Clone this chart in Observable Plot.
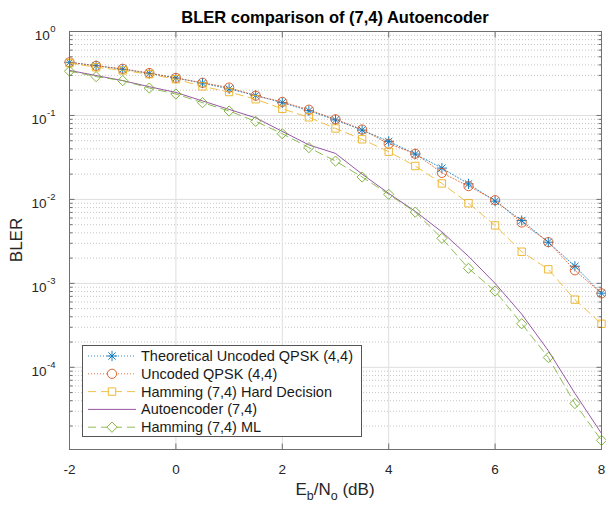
<!DOCTYPE html>
<html><head><meta charset="utf-8">
<script src="https://cdn.jsdelivr.net/npm/d3@7"></script>
<script src="https://cdn.jsdelivr.net/npm/@observablehq/plot@0.6"></script>
<style>
body{margin:0;background:#fff;}
svg text{font-family:"Liberation Sans",Arial,Helvetica,sans-serif;}
</style></head><body><div id="chart"></div>
<script>
// ---- data ----
const ebno = [-2,-1.5,-1,-0.5,0,0.5,1,1.5,2,2.5,3,3.5,4,4.5,5,5.5,6,6.5,7,7.5,8];
const theoretical = [0.429,0.392,0.355,0.317,0.279,0.243,0.207,0.173,0.142,0.114,0.0885,0.067,0.0491,0.0347,0.0236,0.0153,0.00953,0.0056,0.00309,0.0016,0.000764];
const uncoded = [0.43,0.39,0.36,0.32,0.28,0.245,0.215,0.172,0.145,0.117,0.09,0.068,0.046,0.035,0.0207,0.0144,0.0098,0.0053,0.0031,0.00143,0.00076];
const hammingHard = [0.42,0.375,0.344,0.31,0.27,0.222,0.19,0.156,0.12,0.095,0.07,0.052,0.037,0.025,0.0155,0.009,0.0049,0.00238,0.00147,0.00064,0.00033];
const autoencoder = [0.344,0.299,0.26,0.22,0.188,0.149,0.118,0.0937,0.0646,0.0446,0.0353,0.02,0.0118,0.0072,0.0041,0.0021,0.001,0.00043,0.000158,0.000049,0.0000163];
const hammingML = [0.337,0.29,0.26,0.212,0.18,0.142,0.113,0.085,0.0606,0.0414,0.0286,0.0185,0.0115,0.00706,0.00344,0.00151,0.00081,0.00033,0.000131,0.000037,0.0000135];
const seriesNames = ["Theoretical Uncoded QPSK (4,4)","Uncoded QPSK (4,4)","Hamming (7,4) Hard Decision","Autoencoder (7,4)","Hamming (7,4) ML"];
const xTicks = [-2,0,2,4,6,8];
const yTicks = [1,0.1,0.01,0.001,0.0001];
const yDomain = [1.05e-5, 1];
const titleText = "BLER comparison of (7,4) Autoencoder";
const yLabelText = "BLER";

// ---- styles ----
const series = [
  {name: seriesNames[0], values: theoretical, color: "#0072BD", dash: "1,2", symbols: [{s:"plus", r:3.4},{s:"times", r:3.4}]},
  {name: seriesNames[1], values: uncoded, color: "#D95319", dash: "1,2", symbols: [{s:"circle", r:4.6}]},
  {name: seriesNames[2], values: hammingHard, color: "#EDB120", dash: "8,5", symbols: [{s:"square2", r:4.7}]},
  {name: seriesNames[3], values: autoencoder, color: "#7E2F8E", dash: null, symbols: []},
  {name: seriesNames[4], values: hammingML, color: "#77AC30", dash: "8,5", symbols: [{s:"diamond2", r:4.6}]}
];
const minorY = [];
for (let e = -5; e <= -1; e++) for (let m = 2; m <= 9; m++) {
  const v = m * Math.pow(10, e);
  if (v >= yDomain[0] && v <= yDomain[1]) minorY.push(v);
}
const frameColor = "#707070";
const lineOpacity = 0.8;

const marks = [
  Plot.gridY(minorY, {stroke: "#c6c6c6", strokeOpacity: 1, strokeDasharray: "1,2"}),
  Plot.gridY(yTicks, {stroke: "#dedede", strokeOpacity: 1}),
  Plot.gridX(xTicks, {stroke: "#dedede", strokeOpacity: 1})
];
for (const s of series) {
  const rows = ebno.map((x, i) => ({x, y: s.values[i]}));
  marks.push(Plot.line(rows, {x: "x", y: "y", stroke: s.color, strokeWidth: 1, strokeOpacity: lineOpacity, strokeDasharray: s.dash}));
  for (const sym of s.symbols) {
    marks.push(Plot.dot(rows, {x: "x", y: "y", symbol: sym.s, r: sym.r, stroke: s.color, strokeOpacity: 0.9, fill: "none", strokeWidth: 1}));
  }
}
marks.push(
  Plot.frame({stroke: frameColor}),
  Plot.axisY(yTicks, {anchor: "left", tickSize: 0, tickPadding: 14, dy: 4.5, label: null,
    tickFormat: d => String(Math.round(Math.log10(d))), fontSize: 13.5}),
  Plot.axisY(yTicks, {anchor: "left", tickSize: -5.5, label: null, tickFormat: () => "", stroke: frameColor}),
  Plot.axisY(minorY, {anchor: "left", tickSize: -3.5, label: null, tickFormat: () => "", stroke: frameColor}),
  Plot.axisY(yTicks, {anchor: "right", tickSize: -5.5, label: null, tickFormat: () => "", stroke: frameColor}),
  Plot.axisY(minorY, {anchor: "right", tickSize: -3.5, label: null, tickFormat: () => "", stroke: frameColor}),
  Plot.axisX(xTicks, {anchor: "bottom", tickSize: 0, tickPadding: 14.5, label: null, tickFormat: d => String(d), fontSize: 13.5}),
  Plot.axisX(xTicks, {anchor: "bottom", tickSize: -5.5, label: null, tickFormat: () => "", stroke: frameColor}),
  Plot.axisX(xTicks, {anchor: "top", tickSize: -5.5, label: null, tickFormat: () => "", stroke: frameColor})
);

const svg = Plot.plot({
  width: 606, height: 508,
  marginLeft: 69, marginRight: 5, marginTop: 31, marginBottom: 59,
  style: {fontFamily: "Liberation Sans, Arial, Helvetica, sans-serif", fontSize: "13.5px", color: "#262626", background: "white"},
  x: {domain: [-2, 8]},
  y: {type: "log", domain: yDomain},
  marks
});
document.getElementById("chart").appendChild(svg);

const S = d3.select(svg);
// superscript exponents on the y tick labels
S.selectAll('g[aria-label="y-axis tick label"] text').each(function() {
  const t = d3.select(this); const e = t.text();
  if (!e) return;
  t.text("");
  t.append("tspan").text("10");
  t.append("tspan").attr("dy", "-8").attr("dx", "0.5").attr("font-size", "9.5px").text(e);
});
// title
S.append("text").attr("x", 335).attr("y", 23).attr("text-anchor", "middle")
  .attr("font-size", "16.5px").attr("font-weight", "bold").attr("fill", "#000").text(titleText);
// y label
S.append("text").attr("transform", "translate(22,240) rotate(-90)").attr("text-anchor", "middle")
  .attr("font-size", "17px").attr("fill", "#262626").text(yLabelText);
// x label with subscripts
const xl = S.append("text").attr("x", 335).attr("y", 495).attr("text-anchor", "middle")
  .attr("font-size", "17px").attr("fill", "#262626");
xl.append("tspan").text("E");
xl.append("tspan").attr("font-size", "12.5px").attr("dy", "5").text("b");
xl.append("tspan").attr("dy", "-5").text("/N");
xl.append("tspan").attr("font-size", "12.5px").attr("dy", "5").text("o");
xl.append("tspan").attr("dy", "-5").text(" (dB)");

// legend
const lg = S.append("g");
lg.append("rect").attr("x", 82.5).attr("y", 345.5).attr("width", 279).attr("height", 91)
  .attr("fill", "white").attr("stroke", "#555").attr("stroke-width", 1);
const symMap = {plus: d3.symbolPlus, times: d3.symbolTimes, circle: d3.symbolCircle, square2: d3.symbolSquare2, diamond2: d3.symbolDiamond2};
series.forEach((s, i) => {
  const cy = 356 + i * 17.8;
  const ln = lg.append("line").attr("x1", 88).attr("x2", 136).attr("y1", cy).attr("y2", cy)
    .attr("stroke", s.color).attr("stroke-opacity", lineOpacity).attr("stroke-width", 1);
  if (s.dash) ln.attr("stroke-dasharray", s.dash);
  for (const sym of s.symbols) {
    lg.append("path").attr("transform", `translate(112,${cy})`)
      .attr("d", d3.symbol(symMap[sym.s], sym.r * sym.r * Math.PI)())
      .attr("fill", "white").attr("stroke", s.color).attr("stroke-opacity", 0.9).attr("stroke-width", 1);
  }
  lg.append("text").attr("x", 141).attr("y", cy + 5).attr("text-anchor", "start")
    .attr("font-size", "14.5px").attr("fill", "#1a1a1a").text(s.name);
});
</script></body></html>
